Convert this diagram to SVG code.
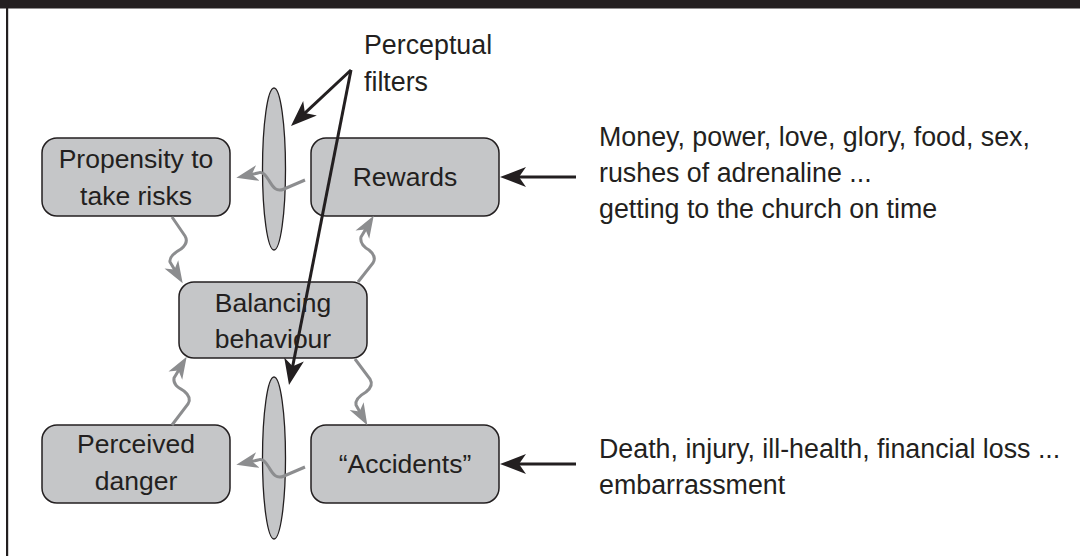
<svg xmlns="http://www.w3.org/2000/svg" width="1080" height="556" viewBox="0 0 1080 556">
<style>
.box{fill:#c5c6c8;stroke:#231f20;stroke-width:1.5}
.lens{fill:#c5c6c8;stroke:#231f20;stroke-width:1.3}
.lbl{font-family:"Liberation Sans",Arial,sans-serif;font-size:26.5px;fill:#231f20;text-anchor:middle}
.txt{font-family:"Liberation Sans",Arial,sans-serif;font-size:26.8px;fill:#231f20}
.wig{fill:none;stroke:#8c8d8f;stroke-width:3;marker-end:url(#ga)}
.blk{fill:none;stroke:#231f20;stroke-width:3;marker-end:url(#ba)}
</style>
<defs>
<marker id="ga" markerUnits="userSpaceOnUse" viewBox="0 -9 23 18" refX="9" refY="0" markerWidth="23" markerHeight="18" orient="auto">
<path d="M22,0 L0,-8 L6,0 L0,8 z" fill="#8c8d8f"/>
</marker>
<marker id="ba" markerUnits="userSpaceOnUse" viewBox="0 -11 27 22" refX="10" refY="0" markerWidth="27" markerHeight="22" orient="auto">
<path d="M26,0 L0,-10 L7,0 L0,10 z" fill="#231f20"/>
</marker>
</defs>
<rect x="0" y="0" width="1080" height="556" fill="#ffffff"/>
<rect x="0" y="0" width="1080" height="8.5" fill="#231f20"/>
<rect x="6" y="0" width="2.2" height="556" fill="#231f20"/>

<g id="filter-top"><ellipse class="lens" cx="274" cy="169" rx="11.5" ry="81"/></g>
<g id="filter-bottom"><ellipse class="lens" cx="274" cy="458" rx="11.5" ry="81"/></g>

<g id="propensity"><rect class="box" x="42" y="138" width="188" height="78" rx="15"/>
<text class="lbl" x="136" y="168">Propensity to</text><text class="lbl" x="136" y="205">take risks</text></g>
<g id="rewards"><rect class="box" x="311" y="138" width="188" height="78" rx="15"/>
<text class="lbl" x="405" y="186">Rewards</text></g>
<g id="balancing"><rect class="box" x="179" y="282" width="188" height="76" rx="15"/>
<text class="lbl" x="273" y="312">Balancing</text><text class="lbl" x="273" y="348">behaviour</text></g>
<g id="perceived"><rect class="box" x="42" y="425" width="188" height="78" rx="15"/>
<text class="lbl" x="136" y="453">Perceived</text><text class="lbl" x="136" y="490">danger</text></g>
<g id="accidents"><rect class="box" x="311" y="425" width="188" height="78" rx="15"/>
<text class="lbl" x="405" y="473">“Accidents”</text></g>

<g id="perceptual-label"><text class="txt" x="364" y="54" font-size="26">Perceptual</text><text class="txt" x="364" y="91" font-size="26">filters</text></g>
<g id="rewards-examples"><text class="txt" x="599" y="146">Money, power, love, glory, food, sex,</text>
<text class="txt" x="599" y="182">rushes of adrenaline ...</text>
<text class="txt" x="599" y="218">getting to the church on time</text></g>
<g id="accidents-examples"><text class="txt" x="599" y="458">Death, injury, ill-health, financial loss ...</text>
<text class="txt" x="599" y="494">embarrassment</text></g>

<g id="connectors">
<path class="wig" d="M305,180 L284,189 C275,193 272,185 268,179 C265,174 262,171 258,173 L249,175"/>
<path class="wig" d="M305,467 L284,476 C275,480 272,472 268,466 C265,461 262,458 258,460 L249,462"/>
<path class="wig" d="M172,217 L185,236 C188,241 186,245 181,249 C174,253 169,257 170,262 L176,272"/>
<path class="wig" d="M358,282 L373,263 C376,258 374,254 369,250 C362,246 360,242 361,237 L367,227"/>
<path class="wig" d="M172,425 L188,404 C191,399 189,395 184,391 C177,387 173,384 174,378 L180,368"/>
<path class="wig" d="M355,359 L370,379 C373,384 371,388 366,392 C359,396 355,400 356,405 L361,414"/>
<path class="blk" d="M576,177 L516,177"/>
<path class="blk" d="M576,464 L516,464"/>
<path class="blk" d="M351,70 L302.7,115.1"/>
<path class="blk" d="M351,70 L292.1,369.3"/>
</g>
</svg>
